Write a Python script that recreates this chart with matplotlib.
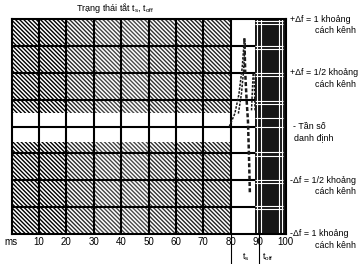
import matplotlib
matplotlib.use('Agg')
import matplotlib.pyplot as plt

plt.rcParams['font.family'] = ['Liberation Sans', 'DejaVu Sans']
plt.rcParams['hatch.linewidth'] = 1.0
plt.rcParams['mathtext.default'] = 'regular'

# ---------------- data ----------------
x_ticks = [10, 20, 30, 40, 50, 60, 70, 80, 90, 100]
x_tick_labels = ['10', '20', '30', '40', '50', '60', '70', '80', '90', '100']
grid_x = [10, 20, 30, 40, 50, 60, 70, 80, 90]
grid_y = [-0.75, -0.5, -0.25, 0.0, 0.25, 0.5, 0.75]

column_left = [0, 10, 20, 30, 40, 50, 60, 70]
column_shade = ['#000000', '#000000', '#2a2a2a', '#444444', '#4a4a4a', '#333333', '#222222', '#222222']
hatch_band_bottom = [0.125, -1.0]
hatch_band_top = [1.0, -0.14]

t_s = 80
t_off = 90.5
black_start = 89
black_end = 100
white_v = [89.7, 91.2, 97.8, 98.8]
white_h = [0.98, 0.95, 0.75, 0.72, 0.5, 0.47, 0.24, 0.21, 0.08, 0.0,
           -0.24, -0.27, -0.5, -0.53, -0.74, -0.77]

level_values = [1.0, 0.5, 0.0, -0.5, -1.0]
level_line1 = ['+\u0394f = 1 khoảng', '+\u0394f = 1/2 khoảng', '- Tần số',
               '-\u0394f = 1/2 khoảng', '-\u0394f = 1 khoảng']
level_line2 = ['cách kênh', 'cách kênh', 'danh định', 'cách kênh', 'cách kênh']

curve1_x = [79.5, 81.5, 83.0, 84.2, 85.0]
curve1_y = [0.0, 0.12, 0.3, 0.55, 0.82]
curve2_x = [82.8, 83.9, 84.7, 85.3]
curve2_y = [0.12, 0.3, 0.52, 0.78]
curve3_x = [85.0, 85.3, 85.8, 86.3, 86.7, 87.0]
curve3_y = [0.82, 0.5, 0.25, 0.05, -0.3, -0.62]
curve4_x = [87.6, 87.9, 88.2]
curve4_y = [0.15, 0.33, 0.5]
curve5_x = [88.9, 88.7, 88.4]
curve5_y = [0.15, 0.33, 0.5]

# ---------------- figure ----------------
W, H = 359, 264
fig = plt.figure(figsize=(W / 100, H / 100), dpi=100)
ax = fig.add_axes([11.5 / W, 30 / H, 274 / W, 215 / H])
ax.set_xlim(0, 100)
ax.set_ylim(-1, 1)

# hatched zones
for left, shade in zip(column_left, column_shade):
    ax.bar([left] * 2,
           [t - b for t, b in zip(hatch_band_top, hatch_band_bottom)],
           bottom=hatch_band_bottom, width=10, align='edge',
           facecolor='white', edgecolor=shade, linewidth=0,
           hatch='\\' * 8, zorder=1)

# grid
ax.hlines(grid_y, 0, black_start, colors='black', linewidth=1.5, zorder=3)
ax.vlines(grid_x, -1, 1, colors='black', linewidth=1.5, zorder=3)

# black zone with white plaid
ax.axvspan(black_start, black_end, facecolor='#161616', edgecolor='none', zorder=4)
ax.vlines(white_v, -1, 1, colors='white', linewidth=0.8, zorder=5)
ax.hlines(white_h, black_start, black_end - 1.0, colors='white', linewidth=0.8, zorder=5)

# dashed transient curves
for cx, cy, lw in [(curve1_x, curve1_y, 1.1), (curve2_x, curve2_y, 1.1),
                   (curve3_x, curve3_y, 1.8), (curve4_x, curve4_y, 1.1),
                   (curve5_x, curve5_y, 1.1)]:
    ax.plot(cx, cy, color='#1a1a1a', linewidth=lw, linestyle=(0, (1.6, 0.9)), zorder=6)

for s in ax.spines.values():
    s.set_linewidth(1.5)
    s.set_zorder(7)

ax.set_yticks([])
ax.set_xticks(x_ticks)
ax.set_xticklabels(x_tick_labels)
ax.tick_params(axis='x', length=0, pad=2.5, labelsize=7)

# t_s / t_off marker lines below axis
for xv in [t_s, t_off]:
    ax.plot([xv, xv], [0, -0.15], transform=ax.get_xaxis_transform(),
            color='black', linewidth=0.8, clip_on=False, zorder=8)
ax.annotate('t$_s$', xy=(t_s, 0), xycoords=('data', 'axes fraction'),
            xytext=(8, -17), textcoords='offset points', fontsize=6.5,
            ha='left', va='center')
ax.annotate('t$_{off}$', xy=(t_off, 0), xycoords=('data', 'axes fraction'),
            xytext=(1.5, -17), textcoords='offset points', fontsize=6.5,
            ha='left', va='center')

# right-side level labels
for val, l1, l2 in zip(level_values, level_line1, level_line2):
    if l1.startswith('- T'):
        dx1, dx2 = 5.5, 6.0
    else:
        dx1, dx2 = 3.0, 21.0
    ax.annotate(l1, xy=(1, val), xycoords=('axes fraction', 'data'),
                xytext=(dx1, 0), textcoords='offset points', fontsize=6.4,
                ha='left', va='center', annotation_clip=False)
    ax.annotate(l2, xy=(1, val), xycoords=('axes fraction', 'data'),
                xytext=(dx2, -8.2), textcoords='offset points', fontsize=6.4,
                ha='left', va='center', annotation_clip=False)

fig.text(4 / W, 1 - 242 / H, 'ms', fontsize=7, ha='left', va='center')
fig.text(76 / W, 1 - 8 / H, 'Trạng thái tắt t$_s$, t$_{off}$', fontsize=6.5,
         ha='left', va='center')

fig.savefig('out.png', dpi=100)
